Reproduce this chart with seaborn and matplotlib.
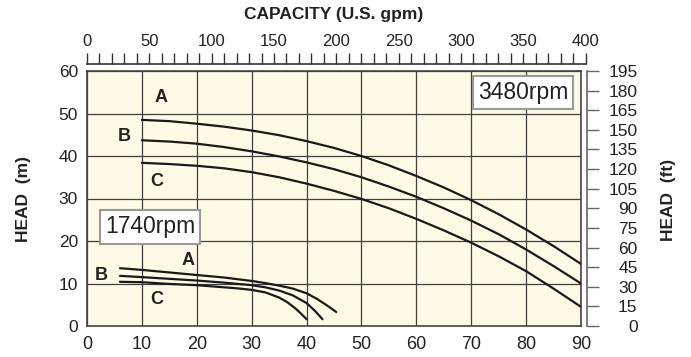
import numpy as np
import pandas as pd
import matplotlib
matplotlib.use("Agg")
import matplotlib.pyplot as plt
import seaborn as sns

# flow in m3/h, head in m
flow_3480 = [10, 15, 20, 25, 30, 35, 40, 45, 50, 55, 60, 65, 70, 75, 80, 85, 90]
head_3480_A = [48.5, 48.2, 47.6, 46.9, 46.0, 44.9, 43.5, 41.9, 40.0, 37.8, 35.3, 32.6, 29.6, 26.3, 22.7, 18.8, 14.6]
head_3480_B = [43.7, 43.4, 42.9, 42.1, 41.1, 39.9, 38.5, 36.9, 35.0, 32.8, 30.4, 27.7, 24.8, 21.6, 18.0, 14.1, 10.0]
head_3480_C = [38.4, 38.1, 37.7, 37.1, 36.2, 35.0, 33.5, 31.8, 29.9, 27.7, 25.2, 22.5, 19.6, 16.4, 12.9, 8.8, 4.5]

flow_1740_A = [6, 10, 15, 20, 25, 27.5, 30, 32.5, 35, 37.5, 40, 42, 44, 45.4]
head_1740_A = [13.6, 13.2, 12.6, 12.0, 11.4, 11.0, 10.6, 10.1, 9.5, 8.8, 7.7, 6.3, 4.6, 3.3]
flow_1740_B = [6, 10, 15, 20, 25, 27.5, 30, 32.5, 35, 37.5, 40, 41.5, 42.9]
head_1740_B = [11.8, 11.5, 11.1, 10.7, 10.2, 9.9, 9.6, 9.1, 8.35, 7.2, 5.4, 3.6, 1.6]
flow_1740_C = [6, 10, 15, 20, 25, 27.5, 30, 32.5, 35, 36.5, 38, 39, 40]
head_1740_C = [10.4, 10.3, 9.9, 9.6, 9.1, 8.85, 8.5, 7.9, 6.7, 5.6, 4.1, 2.9, 1.6]

gpm_ticks = np.arange(0, 401, 50)
ft_ticks = np.arange(0, 196, 15)
GPM_PER_M3H = 4.403

sns.set_style("white")
plt.rcParams["font.family"] = ["Liberation Sans", "DejaVu Sans"]

fig = plt.figure(figsize=(6.91, 3.57), dpi=100)
ax = fig.add_axes([87 / 691, 31 / 357, 494 / 691, 255 / 357])
ax.set_facecolor("#fefae6")

curves = [
    (flow_3480, head_3480_A), (flow_3480, head_3480_B), (flow_3480, head_3480_C),
    (flow_1740_A, head_1740_A), (flow_1740_B, head_1740_B), (flow_1740_C, head_1740_C),
]
for xs, ys in curves:
    df = pd.DataFrame({"flow": xs, "head": ys})
    sns.lineplot(data=df, x="flow", y="head", ax=ax, color="#1a1a1a", lw=1.6,
                 sort=False, estimator=None, zorder=3)

ax.set_xlim(0, 90)
ax.set_ylim(0, 60)
ax.set_xticks(np.arange(0, 91, 10))
ax.set_yticks(np.arange(0, 61, 10))
ax.set_xlabel("")
ax.set_ylabel("")
ax.grid(True, color="#404040", lw=0.9)
ax.set_axisbelow(True)
ax.tick_params(axis="x", length=0, pad=7, labelsize=13, labelcolor="#222")
ax.tick_params(axis="y", length=0, pad=6.5, labelsize=12.5, labelcolor="#222")
for s in ax.spines.values():
    s.set_color("#444")
    s.set_linewidth(1.2)

# curve letters
lab_kw = dict(fontsize=13, fontweight="bold", ha="center", va="center", color="#222")
ax.text(13.4, 53.7, "A", **lab_kw)
ax.text(6.8, 44.7, "B", **lab_kw)
ax.text(12.75, 34.0, "C", **lab_kw)
ax.text(18.45, 15.3, "A", **lab_kw)
ax.text(2.67, 11.9, "B", **lab_kw)
ax.text(12.75, 6.3, "C", **lab_kw)

box_kw = dict(boxstyle="square,pad=0.22", fc="white", ec="#9a9a9a", lw=1.5)
ax.text(79.4, 55.0, "3480rpm", fontsize=16.5, ha="center", va="center",
        color="#222", bbox=box_kw, zorder=4)
ax.text(11.5, 23.3, "1740rpm", fontsize=16.5, ha="center", va="center",
        color="#222", bbox=box_kw, zorder=4)

# top axis in US gpm, its own strip above the plot (400 gpm is a bit past 90 m3/h)
top_w = 494 * (400 / GPM_PER_M3H) / 90
top = fig.add_axes([87 / 691, (357 - 64) / 357, top_w / 691, 0.0001])
top.set_xlim(0, 400)
top.set_facecolor("none")
for side in ["left", "right", "bottom"]:
    top.spines[side].set_visible(False)
top.spines["top"].set_color("#333")
top.spines["top"].set_linewidth(1.2)
top.set_yticks([])
top.xaxis.tick_top()
top.set_xticks(gpm_ticks)
top.set_xticks(np.arange(0, 401, 10), minor=True)
top.tick_params(which="both", length=7.7, width=1, color="#333", pad=3,
                labelsize=12, labelcolor="#222")

# right axis in ft
ax2 = ax.twinx()
ax2.set_ylim(0, 195)
ax2.set_yticks(ft_ticks)
for side in ["top", "bottom", "left"]:
    ax2.spines[side].set_visible(False)
ax2.spines["right"].set_position(("outward", 4.3))
ax2.spines["right"].set_color("#666")
ax2.spines["right"].set_linewidth(1.2)
ax2.tick_params(axis="y", length=8.4, width=1, color="#666", pad=28,
                labelsize=12.5, labelcolor="#222")
for t in ax2.get_yticklabels():
    t.set_horizontalalignment("right")
ax2.grid(False)

fig.text(334 / 691, 1 - 15 / 357, "CAPACITY (U.S. gpm)", fontsize=12.5,
         fontweight="bold", ha="center", va="center", color="#222")
fig.text(23.5 / 691, 158 / 357, "HEAD  (m)", fontsize=12.5, fontweight="bold",
         rotation=90, ha="center", va="center", color="#222")
fig.text(668 / 691, 157 / 357, "HEAD  (ft)", fontsize=12.5, fontweight="bold",
         rotation=90, ha="center", va="center", color="#222")

fig.savefig("out.png", dpi=100)
